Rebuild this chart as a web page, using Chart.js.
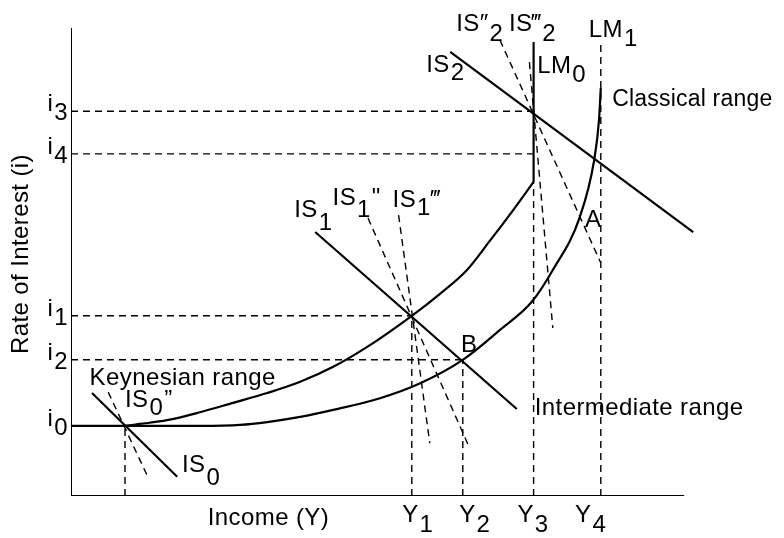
<!DOCTYPE html>
<html><head><meta charset="utf-8">
<script src="https://cdn.jsdelivr.net/npm/chart.js@4.4.1/dist/chart.umd.min.js"></script>
<style>html,body{margin:0;padding:0;background:#fff}#wrap{width:784px;height:538px;position:relative}</style>
</head><body><div id="wrap"><canvas id="c" width="784" height="538"></canvas></div>
<script>
// ---- Levels (income on x, rate of interest on y) ----
const incomeLevels = [9.0, 56.8, 65.3, 77.1, 88.3];          // Y0..Y4
const incomeLabels = ['', 'Y|1', 'Y|2', 'Y|3', 'Y|4'];
const rateLevels   = [15.0, 38.5, 29.1, 82.2, 73.1];          // i0..i4
const rateLabels   = ['i|0', 'i|1', 'i|2', 'i|3', 'i|4'];
const verticalGuideTops   = [15.0, 38.5, 29.1, 67.1, 96.8];   // dashed Y lines reach up to
const horizontalGuideEnds = [0, 56.8, 65.3, 77.1, 77.1];      // dashed i lines reach across to

// ---- LM curves ----
const lm0Income = [0, 9, 11.5, 16, 21.5, 27, 32.7, 38.2, 43.7, 49.3, 56.8, 61.5, 66, 69.8, 73.7, 77.1];
const lm0Rate   = [15, 15, 15.4, 16.2, 17.9, 19.9, 22.0, 24.4, 27.6, 31.8, 38.5, 43.2, 48.3, 54.5, 61.1, 67.1];
const lm0TopIncome = [77.1, 77.1];
const lm0TopRate   = [67.1, 97.0];
const lm1Income = [9, 21.5, 28.2, 32.7, 38.2, 43.7, 51.5, 58.2, 65.3, 71.5, 76.8, 80.3, 84.8, 87.2, 88.0, 88.3];
const lm1Rate   = [15, 15, 15.2, 15.8, 16.9, 18.4, 20.9, 24.1, 29.1, 35.5, 41.5, 48.3, 59.6, 71.8, 80.3, 87.2];

// ---- IS curves (end points) ----
const is0Income = [3.5, 17.7],   is0Rate = [22.0, 4.1];
const is0ppIncome = [6.2, 12.8], is0ppRate = [22.2, 4.1];
const is1Income = [40.7, 74.3],  is1Rate = [56.4, 18.6];
const is1ppIncome = [49.5, 66.2],  is1ppRate = [59.4, 10.9];
const is1pppIncome = [54.6, 59.8], is1pppRate = [60.0, 11.3];
const is2Income = [63.2, 103.7], is2Rate = [94.9, 56.4];
const is2ppIncome = [71.5, 88.3],  is2ppRate = [97.4, 49.8];
const is2pppIncome = [76.4, 80.3], is2pppRate = [92.7, 35.9];

// ---- axes extent ----
const axisIncomeEnd = 102.2, axisRateEnd = 100;

const pts = (xs, ys) => xs.map((x, i) => ({x, y: ys[i]}));
const SOLID = {borderColor:'#000', borderWidth:2.2, pointRadius:0, showLine:true, fill:false};
const DASH  = {borderColor:'#000', borderWidth:1.4, pointRadius:0, showLine:true, fill:false, borderDash:[7,5]};

const datasets = [];
datasets.push({...SOLID, data: pts([0, 0, axisIncomeEnd], [axisRateEnd, 0, 0]), borderWidth:2});
// dashed guides
incomeLevels.forEach((x, k) => datasets.push({...DASH, data: pts([x, x], [0, verticalGuideTops[k]])}));
rateLevels.forEach((y, k) => { if (horizontalGuideEnds[k] > 0) datasets.push({...DASH, data: pts([0, horizontalGuideEnds[k]], [y, y])}); });
// LM
datasets.push({...SOLID, data: pts(lm0Income, lm0Rate), cubicInterpolationMode:'monotone'});
datasets.push({...SOLID, data: pts(lm0TopIncome, lm0TopRate)});
datasets.push({...SOLID, data: pts(lm1Income, lm1Rate), cubicInterpolationMode:'monotone'});
// IS
datasets.push({...SOLID, data: pts(is0Income, is0Rate)});
datasets.push({...DASH,  data: pts(is0ppIncome, is0ppRate)});
datasets.push({...SOLID, data: pts(is1Income, is1Rate)});
datasets.push({...DASH,  data: pts(is1ppIncome, is1ppRate)});
datasets.push({...DASH,  data: pts(is1pppIncome, is1pppRate)});
datasets.push({...SOLID, data: pts(is2Income, is2Rate)});
datasets.push({...DASH,  data: pts(is2ppIncome, is2ppRate)});
datasets.push({...DASH,  data: pts(is2pppIncome, is2pppRate)});

// ---- text annotations: parts [text, downward offset px], anchored at data coords ----
const FONT = '24px "Liberation Sans", Arial, sans-serif';
const FONT_SMALL = '23px "Liberation Sans", Arial, sans-serif';
const annotations = [
  {parts:[['IS″',0],['2',10]], x:64.2, y:99.36},
  {parts:[['IS‴',0],['2',10]], x:73.0, y:99.36},
  {parts:[['LM',0],['1',9]], x:86.3, y:98.08},
  {parts:[['LM',0],['0',9]], x:77.7, y:90.38},
  {parts:[['IS',0],['2',8]], x:59.2, y:90.6},
  {parts:[['Classical range',0]], x:90.2, y:83.33, small:true},
  {parts:[['A',0]], x:85.67, y:57.48},
  {parts:[['B',0]], x:65.0, y:30.77},
  {parts:[['IS',0],['1',13]], x:37.2, y:59.62},
  {parts:[['IS',0],['1',12],['"',0]], x:43.6, y:62.18},
  {parts:[['IS',0],['1',8],['‴',0]], x:53.6, y:61.75},
  {parts:[['Keynesian range',0]], x:3.1, y:23.72},
  {parts:[['IS',0],['0',8],['”',0]], x:9.0, y:19.02},
  {parts:[['IS',0],['0',13]], x:18.5, y:5.13},
  {parts:[['Intermediate range',0]], x:77.3, y:17.31},
  {parts:[['Income (Y)',0]], x:22.8, y:-6.2}
];
const incomeLabelX = [0, 55.2, 64.7, 74.4, 84.0];
const incomeLabelY = -5.56;
const rateLabelX = -3.9;

const labelPlugin = {
  id:'labels',
  afterDatasetsDraw(chart){
    const {ctx, scales:{x, y}} = chart;
    ctx.save();
    ctx.fillStyle = '#000';
    ctx.textBaseline = 'alphabetic';
    ctx.textAlign = 'left';
    const setFont = (small) => {
      ctx.font = small ? FONT_SMALL : FONT;
      try { ctx.letterSpacing = small ? '0.2px' : '0.4px'; } catch(e) {}
    };
    const drawParts = (parts, px, py) => {
      let cx = px;
      parts.forEach(([t, dy]) => { ctx.fillText(t, cx, py + dy); cx += ctx.measureText(t).width + 1; });
    };
    annotations.forEach(a => { setFont(a.small); drawParts(a.parts, x.getPixelForValue(a.x), y.getPixelForValue(a.y)); });
    setFont(false);
    incomeLabels.forEach((lab, k) => {
      if (!lab) return;
      const [m, s] = lab.split('|');
      drawParts([[m,0],[s,10]], x.getPixelForValue(incomeLabelX[k]), y.getPixelForValue(incomeLabelY));
    });
    rateLabels.forEach((lab, k) => {
      const [m, s] = lab.split('|');
      drawParts([[m,0],[s,9]], x.getPixelForValue(rateLabelX), y.getPixelForValue(rateLevels[k]));
    });
    // rotated axis title
    ctx.translate(x.getPixelForValue(-8.33), y.getPixelForValue(51.7));
    ctx.rotate(-Math.PI/2);
    ctx.textAlign = 'center';
    ctx.textBaseline = 'middle';
    ctx.fillText('Rate of Interest (i)', 0, 0);
    ctx.restore();
  }
};

new Chart(document.getElementById('c'), {
  type:'scatter',
  data:{datasets},
  options:{
    responsive:false, animation:false, devicePixelRatio:1,
    layout:{padding:{left:71, right:53, top:28, bottom:42}},
    scales:{
      x:{type:'linear', min:0, max:110, display:false},
      y:{type:'linear', min:0, max:100, display:false}
    },
    plugins:{legend:{display:false}, tooltip:{enabled:false}, title:{display:false}},
    elements:{line:{tension:0}}
  },
  plugins:[labelPlugin]
});
</script></body></html>
